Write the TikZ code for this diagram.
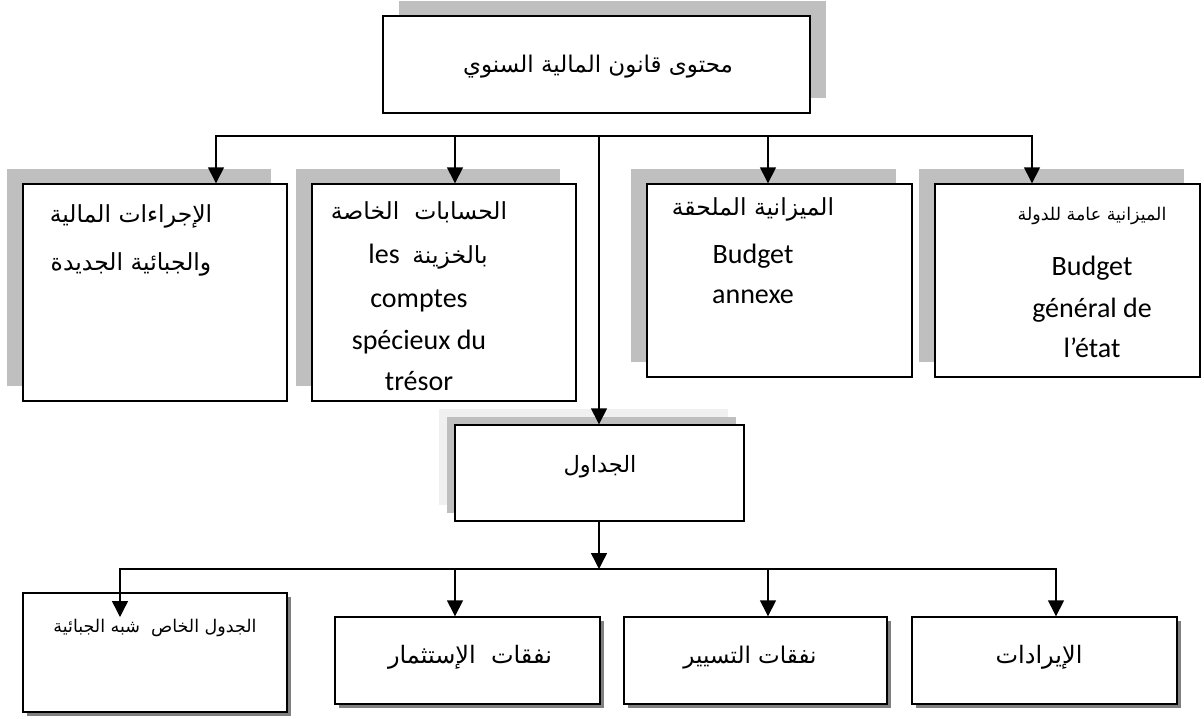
\documentclass[tikz,border=0pt]{standalone}
\usepackage{fontspec}
\setmainfont{Carlito}
\newfontfamily\arabicfont[Script=Arabic]{DejaVu Sans}
\TeXXeTstate=1
\usetikzlibrary{arrows.meta,shadows}
\definecolor{shgray}{HTML}{BFBFBF}
\definecolor{shlight}{HTML}{F0F0F0}
\definecolor{shdark}{HTML}{808080}
\tikzset{
  box/.style={draw=black, line width=1.4pt, fill=white, inner sep=0pt},
  topsh/.style={general shadow={shadow xshift=16pt, shadow yshift=15pt, fill=shgray}},
  midsh/.style={general shadow={shadow xshift=-16pt, shadow yshift=15pt, fill=shgray}},
  tabsh/.style={general shadow={shadow xshift=-16pt, shadow yshift=16pt, fill=shlight},
                general shadow={shadow xshift=-8pt, shadow yshift=8pt, fill=shgray}},
  botsh/.style={general shadow={shadow xshift=3.5pt, shadow yshift=-3.5pt, fill=shdark}},
  ln/.style={line width=1.4pt, line cap=rect},
  arr/.style={line width=1.4pt, -{Triangle[width=16pt,length=16pt]}},
  txt/.style={inner sep=0pt, anchor=base},
  lat/.style={txt, font=\fontsize{28}{34}\selectfont},
  arsans/.style={txt, font=\arabicfont\fontsize{23.5}{28}\selectfont},
  arserif/.style={txt, font=\arabicfont\fontsize{22}{26}\selectfont},
}
\begin{document}
\begin{tikzpicture}[x=1pt,y=-1pt]
\useasboundingbox (0,0) rectangle (1204,718);

% top box
\node[box, topsh, minimum width=427pt, minimum height=97pt] (top) at (596.5,64.5) {};
\node[arserif, font=\arabicfont\fontsize{23}{28}\selectfont] (toptxt) at (598,72) {\beginR محتوى قانون المالية السنوي\endR};

% middle boxes
\node[box, midsh, minimum width=264pt, minimum height=217pt] (b1) at (155,292.5) {};
\node[box, midsh, minimum width=264pt, minimum height=217pt] (b2) at (444,292.5) {};
\node[box, midsh, minimum width=265pt, minimum height=193pt] (b3) at (779.5,280.5) {};
\node[box, midsh, minimum width=265pt, minimum height=193pt] (b4) at (1067.5,280.5) {};

\node[arsans] (b1a) at (131,222) {\beginR الإجراءات المالية\endR};
\node[arsans] (b1b) at (131,270) {\beginR والجبائية الجديدة\endR};

\node[arsans] (b2a) at (419,219) {\beginR الحسابات\ \ الخاصة\endR};
\node[lat] (b2b) at (428,263) {les\ \ {\arabicfont\fontsize{23.5}{28}\selectfont\beginR بالخزينة\endR}};
\node[lat] (b2c) at (419,307) {comptes};
\node[lat] (b2d) at (419,349) {spécieux du};
\node[lat] (b2e) at (419,390) {trésor};

\node[arsans] (b3a) at (753,215) {\beginR الميزانية الملحقة\endR};
\node[lat] (b3b) at (753,263) {Budget};
\node[lat] (b3c) at (753,303) {annexe};

\node[arserif, font=\arabicfont\fontsize{17.5}{21}\selectfont] (b4a) at (1092,220) {\beginR الميزانية عامة للدولة\endR};
\node[lat] (b4b) at (1092,275) {Budget};
\node[lat] (b4c) at (1092,317) {général de};
\node[lat] (b4d) at (1092,357) {l’état};

% tables box
\node[box, tabsh, minimum width=289pt, minimum height=96pt] (tab) at (599.5,473) {};
\node[arserif, font=\arabicfont\fontsize{22.5}{26}\selectfont] (tabtxt) at (600,472) {\beginR الجداول\endR};

% bottom boxes
\node[box, botsh, minimum width=264pt, minimum height=119pt] (b5) at (155,652.5) {};
\node[box, botsh, minimum width=265pt, minimum height=87pt] (b6) at (467.5,660.5) {};
\node[box, botsh, minimum width=263pt, minimum height=87pt] (b7) at (755.5,660.5) {};
\node[box, botsh, minimum width=265pt, minimum height=87pt] (b8) at (1044.5,660.5) {};

\node[arserif, font=\arabicfont\fontsize{17.5}{21}\selectfont] (b5t) at (155,632) {\beginR الجدول الخاص\ \ شبه الجبائية\endR};
\node[arserif, font=\arabicfont\fontsize{24}{28}\selectfont] (b6t) at (470,663) {\beginR نفقات\ \ الإستثمار\endR};
\node[arserif, font=\arabicfont\fontsize{23}{28}\selectfont] (b7t) at (750,663) {\beginR نفقات التسيير\endR};
\node[arserif, font=\arabicfont\fontsize{24}{28}\selectfont] (b8t) at (1039,663) {\beginR الإيرادات\endR};

% upper connectors
\coordinate (busL) at (216,136);
\coordinate (busR) at (1032,136);
\coordinate (d2) at (455,136);
\coordinate (dc) at (599,136);
\coordinate (d3) at (768,136);
\draw[ln] (busL) -- (busR);
\draw[arr] (busL) -- (busL |- b1.north);
\draw[arr] (d2) -- (d2 |- b2.north);
\draw[arr] (d3) -- (d3 |- b3.north);
\draw[arr] (busR) -- (busR |- b4.north);
\draw[arr] (dc) -- (dc |- tab.north);

% lower connectors
\coordinate (j) at (599,569);
\coordinate (eL) at (120,569);
\coordinate (eR) at (1056,569);
\coordinate (e5) at (120,617);
\coordinate (e6) at (455,569);
\coordinate (e7) at (768,569);
\draw[arr] (tab.south -| j) -- (j);
\draw[ln] (eL) -- (eR);
\draw[arr] (eL) -- (e5);
\draw[arr] (e6) -- (e6 |- b6.north);
\draw[arr] (e7) -- (e7 |- b7.north);
\draw[arr] (eR) -- (eR |- b8.north);
\end{tikzpicture}
\end{document}
